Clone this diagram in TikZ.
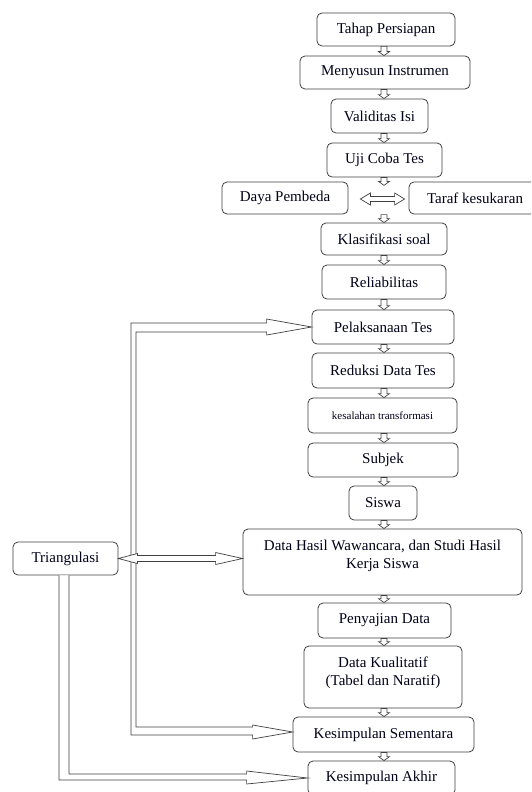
\documentclass[tikz,border=0pt]{standalone}
\usepackage{fontspec}
\setmainfont{Liberation Serif}
\usetikzlibrary{calc}
\tikzset{
  box/.style={draw=black!75, line width=0.8pt, rounded corners=5pt, fill=white,
    inner sep=0pt, align=center, font=\fontsize{15}{18}\selectfont, text=black!90!blue},
  txt/.style={inner sep=0pt, align=center, font=\fontsize{15}{18}\selectfont, text=black!90!blue},
  blk/.style={draw=black!75, line width=0.7pt, fill=white, sharp corners, line join=miter},
}
% hollow down arrow between two named points
\newcommand\dnarrowpts[2]{%
  \draw[blk] ($(#1)+(-3,0)$) -- ($(#2)+(-3,-4)$) -- ($(#2)+(-5.5,-4)$) -- (#2)
    -- ($(#2)+(5.5,-4)$) -- ($(#2)+(3,-4)$) -- ($(#1)+(3,0)$) -- cycle;}
\newcommand\dnarrow[2]{%
  \path (chain |- #1.south) coordinate (da) (chain |- #2.north) coordinate (db);
  \dnarrowpts{da}{db}}
\begin{document}
\begin{tikzpicture}[x=1pt,y=-1pt]
\clip (0,0) rectangle (531,792);
\fill[white] (0,0) rectangle (531,792);
\coordinate (chain) at (384,0);

\node[box, minimum width=138pt, minimum height=33pt] (tahap) at (386,29.5) {Tahap Persiapan};
\node[box, minimum width=170pt, minimum height=33pt] (meny) at (385,72.5) {Menyusun Instrumen};
\node[box, minimum width=97pt, minimum height=34pt] (valid) at (379.5,116) {Validitas Isi};
\node[box, minimum width=115pt, minimum height=34pt] (uji) at (384.5,160) {Uji Coba Tes};
\node[box, minimum width=126pt, minimum height=32pt] (daya) at (285,198) {Daya Pembeda};
\node[box, minimum width=132pt, minimum height=32pt] (taraf) at (475,198) {Taraf kesukaran};
\node[box, minimum width=126pt, minimum height=32pt] (klas) at (384,239) {Klasifikasi soal};
\node[box, minimum width=124pt, minimum height=34pt] (rel) at (384,282) {Reliabilitas};
\node[box, minimum width=142pt, minimum height=34pt] (pel) at (383,327) {Pelaksanaan Tes};
\node[box, minimum width=142pt, minimum height=35pt] (red) at (383,370.5) {Reduksi Data Tes};
\node[box, minimum width=149pt, minimum height=35pt, font=\fontsize{11}{13}\selectfont] (kes) at (382.5,415.5) {kesalahan transformasi};
\node[box, minimum width=150pt, minimum height=34pt] (subj) at (383,460) {Subjek};
\node[box, minimum width=68pt, minimum height=34pt] (siswa) at (383,503) {Siswa};
\node[box, minimum width=279pt, minimum height=66pt] (data) at (382.5,562) {};
\node[txt] (datat) at (382.5,556) {Data Hasil Wawancara, dan Studi Hasil\\Kerja Siswa};
\node[box, minimum width=133pt, minimum height=35pt] (peny) at (384.5,620.5) {Penyajian Data};
\node[box, minimum width=158pt, minimum height=62pt] (kual) at (383,677) {};
\node[txt] (kualt) at (383,673) {Data Kualitatif\\(Tabel dan Naratif)};
\node[box, minimum width=181pt, minimum height=35pt] (sem) at (383.5,734.5) {Kesimpulan Sementara};
\node[box, minimum width=147pt, minimum height=34pt] (akhir) at (381.5,778) {Kesimpulan Akhir};
\node[box, minimum width=105pt, minimum height=33pt] (tri) at (65.5,558.5) {Triangulasi};

% chain arrows
\dnarrow{tahap}{meny}
\dnarrow{meny}{valid}
\dnarrow{valid}{uji}
% Uji Coba Tes -> (Daya/Taraf level) -> Klasifikasi soal : two short arrows
\path (chain |- uji.south) coordinate (u1) ($(u1)+(0,8)$) coordinate (u2);
\dnarrowpts{u1}{u2}
\path (chain |- klas.north) coordinate (k2) ($(k2)+(0,-8)$) coordinate (k1);
\dnarrowpts{k1}{k2}
\dnarrow{klas}{rel}
\dnarrow{rel}{pel}
\dnarrow{pel}{red}
\dnarrow{red}{kes}
\dnarrow{kes}{subj}
\dnarrow{subj}{siswa}
\dnarrow{siswa}{data}
\dnarrow{data}{peny}
\dnarrow{peny}{kual}
\dnarrow{kual}{sem}
\dnarrow{sem}{akhir}

% double arrow between Daya Pembeda and Taraf kesukaran
\coordinate (dl) at ($(daya.east)+(12,1)$);
\coordinate (dr) at ($(taraf.west)+(-4,1)$);
\draw[blk] (dl) -- ($(dl)+(10,-6)$) -- ($(dl)+(10,-2.5)$) -- ($(dr)+(-10,-2.5)$) -- ($(dr)+(-10,-6)$)
  -- (dr) -- ($(dr)+(-10,6)$) -- ($(dr)+(-10,2.5)$) -- ($(dl)+(10,2.5)$) -- ($(dl)+(10,6)$) -- cycle;

% main left trunk: to Pelaksanaan Tes and Kesimpulan Sementara
\coordinate (ptip) at (pel.west);
\coordinate (stip) at ($(sem.west)+(0,-2.5)$);
\draw[blk] (ptip) -- ($(ptip)+(-45,-8)$) -- ($(ptip)+(-45,-4)$) -- (131,323) -- (131,735)
  -- ($(stip)+(-40,3)$) -- ($(stip)+(-40,7)$) -- (stip) -- ($(stip)+(-40,-7)$) -- ($(stip)+(-40,-5)$)
  -- (136,727) -- (136,332) -- ($(ptip)+(-45,5)$) -- ($(ptip)+(-45,8)$) -- cycle;

% double arrow Triangulasi <-> Data Hasil
\coordinate (tl) at (tri.east);
\coordinate (tr) at (data.west |- tri.east);
\draw[blk] (tl) -- ($(tl)+(19,-5)$) -- ($(tl)+(19,-3)$) -- ($(tr)+(-27,-3)$) -- ($(tr)+(-27,-6)$)
  -- (tr) -- ($(tr)+(-27,6)$) -- ($(tr)+(-27,3)$) -- ($(tl)+(19,3)$) -- ($(tl)+(19,5)$) -- cycle;

% Triangulasi to Kesimpulan Akhir
\coordinate (atip) at (akhir.west);
\coordinate (tbl) at ($(tri.south)+(-6.5,0)$);
\coordinate (tbr) at ($(tri.south)+(3.5,0)$);
\draw[blk] (tbl) -- (tbl |- 0,780) -- ($(atip)+(-61,2)$) -- ($(atip)+(-61,6)$) -- (atip)
  -- ($(atip)+(-61,-7)$) -- ($(atip)+(-61,-4)$) -- (tbr |- 0,774) -- (tbr);
\end{tikzpicture}
\end{document}
